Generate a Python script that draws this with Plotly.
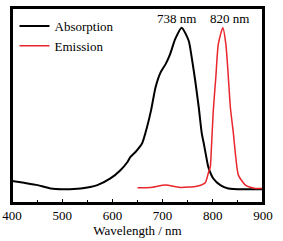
import plotly.graph_objects as go

abs_x = [400, 424, 451, 477, 501, 537, 570, 596, 616, 630, 636, 646, 659, 669, 677, 686,
         696, 706, 715, 725, 738, 752, 758, 765, 772, 778, 782, 787, 791, 801, 815, 831, 864, 900]
abs_y = [0.126, 0.115, 0.102, 0.083, 0.079, 0.083, 0.102, 0.140, 0.187, 0.234, 0.263, 0.291,
         0.339, 0.433, 0.528, 0.660, 0.745, 0.792, 0.849, 0.934, 1.0, 0.925, 0.830, 0.697,
         0.546, 0.397, 0.340, 0.263, 0.206, 0.140, 0.102, 0.083, 0.078, 0.078]

em_x = [650, 676, 706, 735, 768, 785, 791, 795, 797, 801, 806, 811, 820, 826, 831, 835,
        841, 846, 851, 865, 885, 900]
em_y = [0.087, 0.089, 0.102, 0.089, 0.096, 0.116, 0.170, 0.206, 0.300, 0.528, 0.716, 0.906,
        1.0, 0.906, 0.716, 0.546, 0.397, 0.255, 0.159, 0.102, 0.083, 0.083]

peak_labels = ["738 nm", "820 nm"]
peak_label_x = [728, 834]

FONT = "Liberation Serif, Times New Roman, serif"

fig = go.Figure()
fig.add_trace(go.Scatter(x=abs_x, y=abs_y, mode="lines", name="Absorption",
                         line=dict(color="black", width=2, shape="spline", smoothing=0.6)))
fig.add_trace(go.Scatter(x=em_x, y=em_y, mode="lines", name="Emission",
                         line=dict(color="#e8262b", width=1.5, shape="spline", smoothing=0.6)))

for t, xv in zip(peak_labels, peak_label_x):
    fig.add_annotation(x=xv, y=1.055, text=t, showarrow=False,
                       font=dict(family=FONT, size=13, color="black"),
                       xanchor="center", yanchor="middle")

# plot frame drawn on the plot area edges
fig.add_shape(type="rect", xref="x domain", yref="y domain", x0=0, y0=0, x1=1, y1=1,
              line=dict(color="black", width=2), fillcolor="rgba(0,0,0,0)", layer="above")

fig.update_layout(
    width=283, height=241,
    margin=dict(l=12, r=20, t=8, b=38, autoexpand=False),
    paper_bgcolor="white", plot_bgcolor="white",
    font=dict(family=FONT, size=13, color="black"),
    showlegend=True,
    legend=dict(x=0.01, y=0.985, xanchor="left", yanchor="top",
                bgcolor="rgba(0,0,0,0)", font=dict(family=FONT, size=13),
                tracegroupgap=0, itemwidth=30),
    xaxis=dict(range=[400, 900], tickvals=[400, 500, 600, 700, 800, 900],
               ticks="inside", ticklen=4, tickwidth=1.2, tickcolor="black",
               minor=dict(tickvals=[450, 550, 650, 750, 850], ticks="inside",
                          ticklen=3, tickwidth=1.2, tickcolor="black"),
               showline=True, linecolor="black", linewidth=1.5, mirror=True,
               showgrid=False, zeroline=False, automargin=False,
               title=dict(text="Wavelength / nm", font=dict(family=FONT, size=13), standoff=1),
               tickfont=dict(family=FONT, size=13)),
    yaxis=dict(range=[0, 1.112], showticklabels=False, ticks="",
               showline=True, linecolor="black", linewidth=1.5, mirror=True,
               showgrid=False, zeroline=False, automargin=False),
)

fig.write_html("out.html", config={"displayModeBar": False},
               post_script="document.body.style.margin='0';")
